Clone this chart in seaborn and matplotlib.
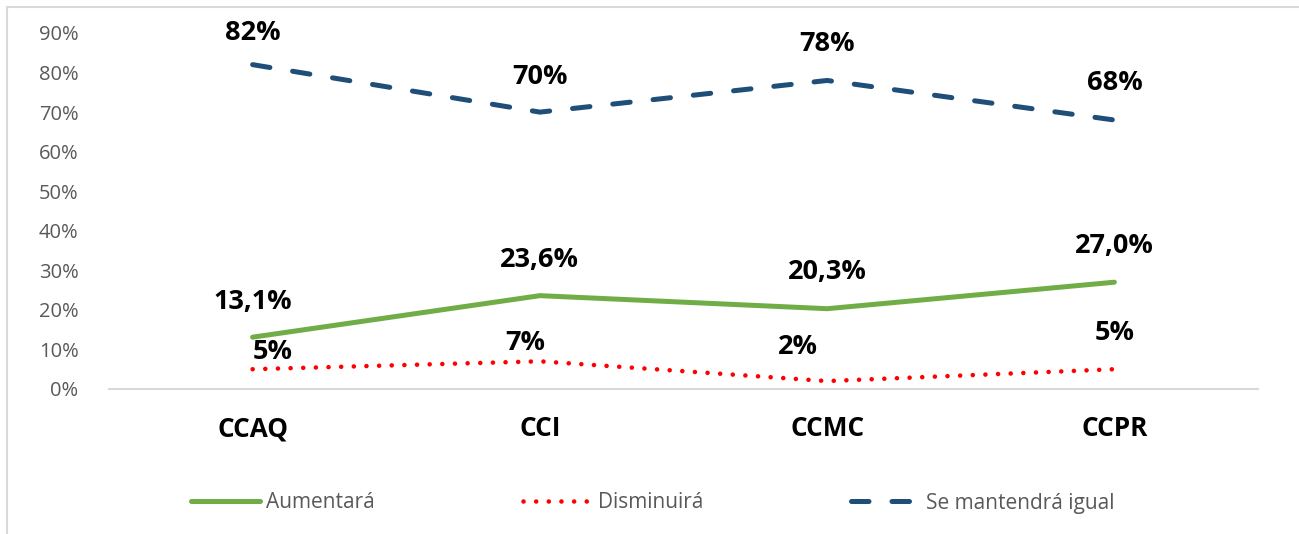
import matplotlib
matplotlib.use("Agg")
import matplotlib.pyplot as plt
from matplotlib.lines import Line2D
from matplotlib.patches import Rectangle
import seaborn as sns
import pandas as pd

# ---- data ----
categories = ["CCAQ", "CCI", "CCMC", "CCPR"]
aumentara = [0.131, 0.236, 0.203, 0.270]
disminuira = [0.05, 0.07, 0.02, 0.05]
se_mantendra = [0.82, 0.70, 0.78, 0.68]
aumentara_labels = ["13,1%", "23,6%", "20,3%", "27,0%"]
disminuira_labels = ["5%", "7%", "2%", "5%"]
se_mantendra_labels = ["82%", "70%", "78%", "68%"]
series_names = ["Aumentará", "Disminuirá", "Se mantendrá igual"]
y_ticks = [0.0, 0.1, 0.2, 0.3, 0.4, 0.5, 0.6, 0.7, 0.8, 0.9]
y_tick_labels = ["0%", "10%", "20%", "30%", "40%", "50%", "60%", "70%", "80%", "90%"]

sns.set_theme(style="white")
plt.rcParams["font.family"] = ["Open Sans", "DejaVu Sans"]

W, H = 1299, 534
fig = plt.figure(figsize=(W / 100, H / 100), dpi=100)
ax = fig.add_axes([109 / W, 1 - 389 / H, (1258 - 109) / W, (389 - 33) / H])

df = pd.DataFrame({"cat": categories, "x": range(len(categories)),
                   "aum": aumentara, "dis": disminuira, "man": se_mantendra})

GREEN = "#70AD47"
RED = "#FF0000"
BLUE = "#1F4E79"

styles = {
    "aum": dict(color=GREEN, lw=3.6, dashes=None),
    "dis": dict(color=RED, lw=3.3, dashes=(0.01, 2.75)),
    "man": dict(color=BLUE, lw=3.6, dashes=(3.5, 4.6)),
}

for key in ["aum", "dis", "man"]:
    st = styles[key]
    sns.lineplot(data=df, x="x", y=key, ax=ax, legend=False, color=st["color"], lw=st["lw"])
    line = ax.lines[-1]
    if st["dashes"] is not None:
        line.set_dashes(st["dashes"])
        line.set_dash_capstyle("round")
    else:
        line.set_solid_capstyle("round")

# data labels (offsets in pixels)
aum_off = [(0, 35), (0, 36), (0, 37), (0, 36)]
dis_off = [(20, 17), (-15, 18), (-29, 34), (0, 36)]
man_off = [(0, 32), (0, 35), (0, 36), (0, 37)]
for vals, labs, offs in [(aumentara, aumentara_labels, aum_off),
                         (disminuira, disminuira_labels, dis_off),
                         (se_mantendra, se_mantendra_labels, man_off)]:
    for i, (v, lab) in enumerate(zip(vals, labs)):
        ax.annotate(lab, (i, v), xytext=offs[i], textcoords="offset pixels",
                    ha="center", va="center", fontsize=19.5, fontweight="bold",
                    color="black", annotation_clip=False)

ax.set_xlim(-0.5, len(categories) - 0.5)
ax.set_ylim(0, 0.9)
ax.set_yticks(y_ticks)
ax.set_yticklabels(y_tick_labels, fontsize=14.5, color="#595959")
ax.set_xticks(range(len(categories)))
ax.set_xticklabels(categories, fontsize=18.8, fontweight="bold", color="black")
ax.tick_params(axis="y", length=0, pad=22)
ax.tick_params(axis="x", length=0, pad=19)
ax.set_xlabel("")
ax.set_ylabel("")
ax.grid(False)
for s in ["left", "right", "top"]:
    ax.spines[s].set_visible(False)
ax.spines["bottom"].set_color("#D9D9D9")
ax.spines["bottom"].set_linewidth(1.5)
ax.patch.set_alpha(0)

# legend
handles = [
    Line2D([], [], color=GREEN, lw=3.6, solid_capstyle="round"),
    Line2D([], [], color=RED, lw=3.3, dashes=(0.01, 2.75), dash_capstyle="round"),
    Line2D([], [], color=BLUE, lw=3.6, dashes=(3.5, 4.6), dash_capstyle="round"),
]
leg = fig.legend(handles, series_names, loc="center", bbox_to_anchor=(653 / W, 1 - 503 / H),
                 ncol=3, frameon=False, fontsize=15, handlelength=3.3, handletextpad=0.3,
                 columnspacing=7.1)
for t in leg.get_texts():
    t.set_color("#595959")

# chart border
fig.add_artist(Rectangle((7 / W, -0.1), 1.2, (1 - 7 / H) + 0.1, transform=fig.transFigure,
                         fill=False, edgecolor="#D9D9D9", lw=1.5, clip_on=False))

fig.savefig("out.png", dpi=100)
